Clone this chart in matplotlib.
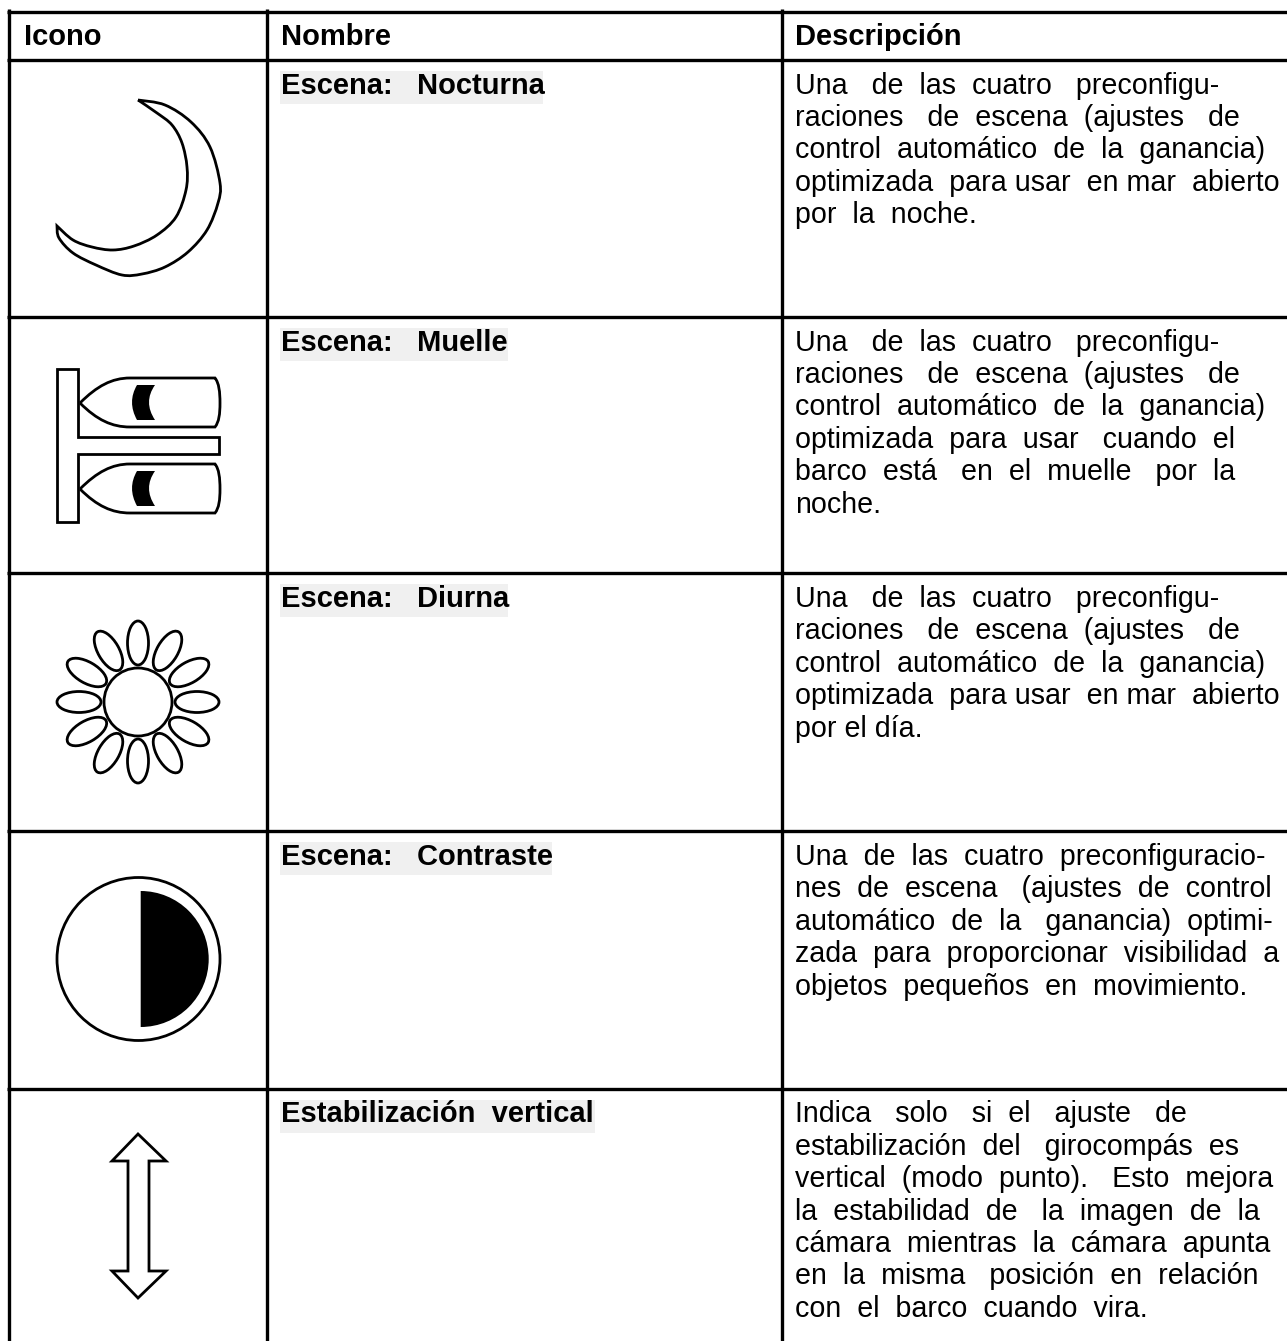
import matplotlib
matplotlib.use("Agg")
import matplotlib.pyplot as plt
from matplotlib.patches import Ellipse, Circle, Polygon, Rectangle, PathPatch, Wedge
from matplotlib.path import Path
import numpy as np

plt.rcParams['font.family'] = ['Liberation Sans', 'DejaVu Sans']

W, H = 1287, 1341
headers = ["Icono", "Nombre", "Descripción"]
names = ["Escena:   Nocturna", "Escena:   Muelle", "Escena:   Diurna", "Escena:   Contraste", "Estabilización  vertical"]
name_box_right = [543, 508, 508, 552, 595]
descriptions = [
    ["Una de las cuatro preconfigu-", "raciones de escena (ajustes de", "control automático de la ganancia)",
     "optimizada para usar en mar abierto", "por la noche."],
    ["Una de las cuatro preconfigu-", "raciones de escena (ajustes de", "control automático de la ganancia)",
     "optimizada para usar cuando el", "barco está en el muelle por la", "noche."],
    ["Una de las cuatro preconfigu-", "raciones de escena (ajustes de", "control automático de la ganancia)",
     "optimizada para usar en mar abierto", "por el día."],
    ["Una de las cuatro preconfiguracio-", "nes de escena (ajustes de control", "automático de la ganancia) optimi-",
     "zada para proporcionar visibilidad a", "objetos pequeños en movimiento."],
    ["Indica solo si el ajuste de", "estabilización del girocompás es", "vertical (modo punto). Esto mejora",
     "la estabilidad de la imagen de la", "cámara mientras la cámara apunta", "en la misma posición en relación",
     "con el barco cuando vira."],
]
line_right = [
    [1218, 1236, 1269, 1282, 980],
    [1218, 1236, 1269, 1238, 1234, 880],
    [1218, 1236, 1269, 1282, 921],
    [1269, 1268, 1269, 1281, 1249],
    [1183, 1242, 1274, 1259, 1272, 1258, 1150],
]
col_x = [9, 267, 781.5]
row_y = [11.5, 59.5, 316.5, 573, 831, 1088.5]

moon_outer_x = [138, 165, 191, 210, 220, 218, 207, 188, 165, 142, 122, 96, 73, 59, 57]
moon_outer_y = [100, 105, 122, 147, 183, 203, 230, 252, 267, 274, 275, 265, 253, 238, 226]
moon_inner_x = [57, 73, 92, 113, 134, 157, 176, 186, 187, 182, 172, 157, 138]
moon_inner_y = [226, 240, 247, 250, 246, 235, 217, 190, 167, 143, 125, 113, 100]

sun_angles = np.arange(0, 360, 30)

arrow_x = [138, 166, 149, 149, 166, 138, 112, 128, 128, 112]
arrow_y = [1134, 1161, 1161, 1271, 1271, 1298, 1271, 1271, 1161, 1161]


def smooth(xs, ys, move=True):
    """Catmull-Rom through the read points, as Bezier segments."""
    p = np.c_[xs, ys].astype(float)
    q = np.vstack([p[0], p, p[-1]])
    verts, codes = [], []
    if move:
        verts.append(tuple(p[0])); codes.append(Path.MOVETO)
    for i in range(1, len(q) - 2):
        c1 = q[i] + (q[i + 1] - q[i - 1]) / 6
        c2 = q[i + 1] - (q[i + 2] - q[i]) / 6
        verts += [tuple(c1), tuple(c2), tuple(q[i + 1])]
        codes += [Path.CURVE4] * 3
    return verts, codes


fig = plt.figure(figsize=(W / 100, H / 100), dpi=100)
ax = fig.add_axes([0, 0, 1, 1])
ax.set_xlim(0, W)
ax.set_ylim(H, 0)
ax.axis("off")
renderer = fig.canvas.get_renderer()

LW = 2.4
for x in col_x:
    ax.plot([x, x], [9, H], color="k", lw=LW, solid_capstyle="butt")
for y in row_y:
    ax.plot([7, W], [y, y], color="k", lw=LW, solid_capstyle="butt")

FB = 21
FS = 20.6
PITCH = 32.4
TX = 795


def width(s, **kw):
    t = ax.text(0, 0, s, **kw)
    w = t.get_window_extent(renderer).width
    t.remove()
    return w


def spaced(line, right):
    words = line.split(" ")
    gaps = len(words) - 1
    if gaps == 0:
        return line
    s = width("a a", fontsize=FS) - width("aa", fontsize=FS)
    extra = max(0, round((right - TX - width(line, fontsize=FS)) / s))
    out = words[0]
    for i in range(1, gaps + 1):
        n = round(extra * i / gaps) - round(extra * (i - 1) / gaps)
        out += " " * (1 + n) + words[i]
    return out


for x, h in zip([23.5, 280.7, 794.7], headers):
    ax.text(x, 45, h, fontsize=FB, fontweight="bold", va="baseline", ha="left")

for i in range(5):
    top = row_y[i + 1]
    ax.add_patch(Rectangle((280, top + 11), name_box_right[i] - 280, 33, fc="#f0f0f0", ec="none", zorder=1))
    ax.text(280.7, top + 34, names[i], fontsize=FB, fontweight="bold", va="baseline", ha="left", zorder=2)
    for j, line in enumerate(descriptions[i]):
        ax.text(TX, top + 34 + j * PITCH, spaced(line, line_right[i][j]), fontsize=FS, va="baseline", ha="left")

ILW = 2.0
# moon
v1, c1 = smooth(moon_outer_x, moon_outer_y)
v2, c2 = smooth(moon_inner_x, moon_inner_y, move=False)
ax.add_patch(PathPatch(Path(v1 + v2, c1 + c2), fc="w", ec="k", lw=ILW, joinstyle="miter"))

# dock
ax.add_patch(Polygon([(57, 369), (78, 369), (78, 437), (219, 437), (219, 454), (78, 454), (78, 522), (57, 522)],
                     closed=True, fc="w", ec="k", lw=ILW))
for dy in (0, 86):
    verts = [(80, 403 + dy), (97, 386 + dy), (112, 378 + dy), (130, 378 + dy), (215, 378 + dy),
             (219, 383 + dy), (220, 392 + dy), (220, 403 + dy),
             (220, 414 + dy), (219, 422 + dy), (215, 427 + dy),
             (130, 427 + dy), (112, 427 + dy), (97, 420 + dy), (80, 403 + dy)]
    codes = [Path.MOVETO, Path.CURVE4, Path.CURVE4, Path.CURVE4, Path.LINETO,
             Path.CURVE4, Path.CURVE4, Path.CURVE4, Path.CURVE4, Path.CURVE4, Path.CURVE4,
             Path.LINETO, Path.CURVE4, Path.CURVE4, Path.CURVE4]
    ax.add_patch(PathPatch(Path(verts, codes), fc="w", ec="k", lw=ILW))
    wv = [(137, 385 + dy), (155, 385 + dy), (143, 402 + dy), (155, 420 + dy), (137, 420 + dy),
          (127, 402 + dy), (137, 385 + dy)]
    wc = [Path.MOVETO, Path.LINETO, Path.CURVE3, Path.CURVE3, Path.LINETO, Path.CURVE3, Path.CURVE3]
    ax.add_patch(PathPatch(Path(wv, wc), fc="k", ec="none"))

# sun
cx, cy = 138, 702
ax.add_patch(Circle((cx, cy), 34, fc="w", ec="k", lw=ILW))
for a in sun_angles:
    r = np.deg2rad(a)
    ax.add_patch(Ellipse((cx + 59 * np.cos(r), cy - 59 * np.sin(r)), 44, 21, angle=-a, fc="w", ec="k", lw=ILW))

# contrast
ax.add_patch(Circle((138.5, 959), 81.5, fc="w", ec="k", lw=ILW))
ax.add_patch(Wedge((140.7, 959), 68, -90, 90, fc="k", ec="none"))

# arrow
ax.add_patch(Polygon(np.c_[arrow_x, arrow_y], closed=True, fc="w", ec="k", lw=ILW, joinstyle="miter"))

fig.savefig("out.png", dpi=100)
